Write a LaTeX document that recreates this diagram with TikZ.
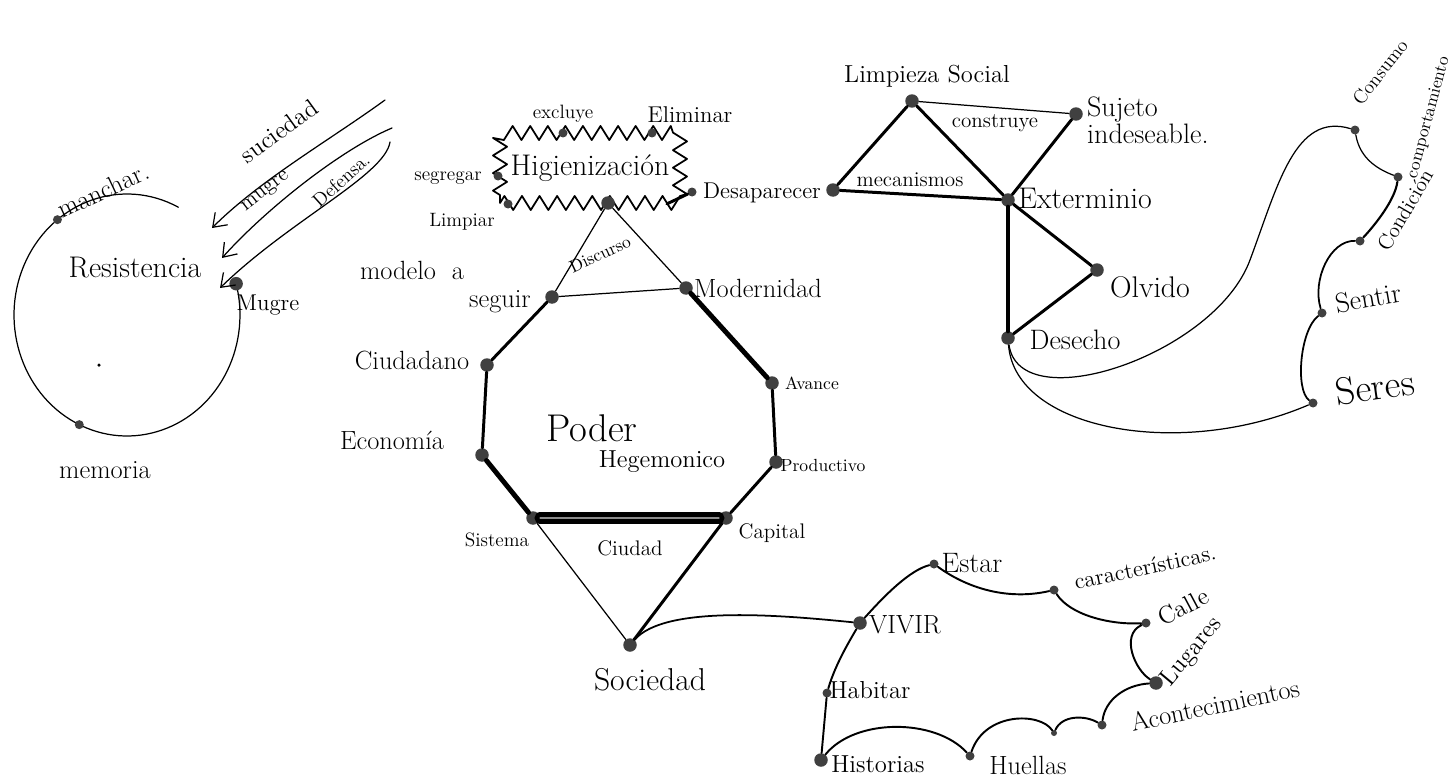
\documentclass[tikz,border=0pt]{standalone}
\usepackage{tikz}
\usetikzlibrary{
  arrows.meta,
  decorations.pathmorphing,
  calc
}
\tikzset{
  hub/.style={circle,fill=black!75,inner sep=0pt,minimum size=0.27cm},
  bead/.style={circle,fill=black!75,inner sep=0pt,minimum size=0.18cm},
  link/.style={draw,line width=0.7pt},
  bond/.style={draw,line width=1.7pt},
  heavy/.style={draw,line width=2.8pt},
  word/.style={font=\fontsize{15}{15}\selectfont,inner sep=1pt},
  note/.style={font=\fontsize{11}{12}\selectfont,inner sep=1pt},
  big word/.style={font=\fontsize{22}{22}\selectfont,inner sep=1pt},
  barb/.style={-{Straight Barb[length=7pt,width=10pt]}},
}

\begin{document}
\begin{tikzpicture}[x=0.02cm,y=-0.02cm,line cap=round,line join=round]
\useasboundingbox (0,0) rectangle (1455,781);

% Resistencia
\coordinate (ring) at (127,315);
\draw[link] ($(ring)+(63:2.26cm and 2.42cm)$)
  arc[start angle=63,end angle=375,x radius=2.26cm,y radius=2.42cm];
\node[bead] (manchar) at ($(ring)+(128:2.26cm and 2.42cm)$) {};
\node[bead] (memoria) at ($(ring)+(245:2.26cm and 2.42cm)$) {};
\node[hub] (mugre) at ($(ring)+(15:2.26cm and 2.42cm)$) {};
\node[circle,fill,inner sep=0pt,minimum size=0.07cm] (punto) at (99,365) {};
\node[word,rotate=25] (manchar-t) at (103,190) {manchar.};
\node[word,font=\fontsize{17}{17}\selectfont] (resist-t) at (135,268) {Resistencia};
\node[word] (memoria-t) at (105,470) {memoria};
\node[word,font=\fontsize{13}{13}\selectfont] (mugre-t) at (268,305) {Mugre};

\coordinate (s1) at (385,100);
\coordinate (s2) at (392,128);
\coordinate (s3) at (390,142);
\coordinate (a1) at (212,228);
\coordinate (a2) at (222,258);
\coordinate (a3) at (220,288);
\draw[link,barb] (s1) .. controls (330,140) and (260,180) .. (a1);
\draw[link,barb] (s2) .. controls (340,150) and (265,210) .. (a2);
\draw[link,barb] (s3) .. controls (385,175) and (290,220) .. (a3);
\node[word,font=\fontsize{14}{14}\selectfont,rotate=36] (suc-t) at (279,131) {suciedad};
\node[note,font=\fontsize{12}{12}\selectfont,rotate=38] (mug-t) at (266,192) {mugre};
\node[note,rotate=42] (def-t) at (341,180) {Defensa.};

% Higienizacion
\node[draw,line width=1pt,decorate,
  decoration={zigzag,amplitude=4pt,segment length=10pt},
  minimum width=3.6cm,minimum height=1.4cm,
  font=\fontsize{17}{17}\selectfont] (hig) at (590,168) {Higienización};
\node[bead] (excluye) at (563,133) {};
\node[bead] (eliminar) at (652,133) {};
\node[bead] (segregar) at (498,176) {};
\node[bead] (limpiar) at (508,204) {};
\node[bead] (desap-a) at (692,192) {};
\node[hub] (disc) at (608,203) {};
\draw[bond] (hig.-25) -- (desap-a);
\node[note] (excluye-t) at (563,114) {excluye};
\node[note,font=\fontsize{13}{13}\selectfont] (eliminar-t) at (690,115) {Eliminar};
\node[note] (segregar-t) at (448,178) {segregar};
\node[note] (limpiar-t) at (462,222) {Limpiar};
\node[note,font=\fontsize{13}{13}\selectfont] (desap-t) at (762,193) {Desaparecer};

% Poder hegemonico
\node[hub] (modelo) at (552,297) {};
\node[hub] (modern) at (686,288) {};
\node[hub] (avance) at (772,383) {};
\node[hub] (product) at (776,462) {};
\node[hub] (capital) at (726,518) {};
\node[hub] (sistema) at (533,518) {};
\node[hub] (econ) at (482,455) {};
\node[hub] (ciudadano) at (487,365) {};
\node[hub] (sociedad) at (630,645) {};

\draw[link] (disc) -- (modelo) -- (modern) -- (disc);
\draw[bond] (modelo) -- (ciudadano) -- (econ);
\draw[heavy] (econ) -- (sistema);
\draw[heavy,double=black!45,double distance=0.8pt] (sistema) -- (capital);
\draw[bond] (capital) -- (product) -- (avance);
\draw[heavy] (avance) -- (modern);
\draw[link] (sistema) -- (sociedad);
\draw[bond] (capital) -- (sociedad);

\node[note,font=\fontsize{10}{10}\selectfont,rotate=25] (disc-t) at (600,254) {Discurso};
\node[word] (modelo-t) at (412,270) {modelo\ \ a};
\node[word] (seguir-t) at (500,302) {seguir};
\node[word] (modern-t) at (758,288) {Modernidad};
\node[word] (ciudadano-t) at (412,360) {Ciudadano};
\node[word] (econ-t) at (392,440) {Economía};
\node[note,font=\fontsize{10}{10}\selectfont] (avance-t) at (812,383) {Avance};
\node[note,font=\fontsize{10}{10}\selectfont] (product-t) at (823,465) {Productivo};
\node[note,font=\fontsize{12}{12}\selectfont] (capital-t) at (772,533) {Capital};
\node[note] (sistema-t) at (497,540) {Sistema};
\node[note,font=\fontsize{12}{12}\selectfont] (ciudad-t) at (630,548) {Ciudad};
\node[big word] (poder-t) at (592,428) {Poder};
\node[word,font=\fontsize{14}{14}\selectfont] (hegem-t) at (662,462) {Hegemonico};
\node[word,font=\fontsize{18}{18}\selectfont] (sociedad-t) at (650,680) {Sociedad};

% Limpieza social
\node[hub] (limp) at (912,101) {};
\node[hub] (sujeto) at (1076,114) {};
\node[hub] (desap-b) at (833,190) {};
\node[hub] (exterm) at (1008,200) {};
\node[hub] (olvido) at (1097,270) {};
\node[hub] (desecho) at (1008,338) {};
\draw[link] (limp) -- (sujeto);
\draw[bond] (limp) -- (desap-b) -- (exterm) -- (limp);
\draw[bond] (sujeto) -- (exterm);
\draw[heavy] (exterm) -- (desecho);
\draw[bond] (exterm) -- (olvido) -- (desecho);
\node[word,font=\fontsize{14}{14}\selectfont] (limp-t) at (927,76) {Limpieza Social};
\node[word,font=\fontsize{16}{14}\selectfont,align=left,anchor=west] (sujeto-t) at (1085,120) {Sujeto\\indeseable.};
\node[note,font=\fontsize{12}{12}\selectfont] (constr-t) at (995,123) {construye};
\node[note,font=\fontsize{12}{12}\selectfont] (mecan-t) at (910,180) {mecanismos};
\node[word,font=\fontsize{17}{17}\selectfont] (exterm-t) at (1085,198) {Exterminio};
\node[word,font=\fontsize{17}{17}\selectfont] (olvido-t) at (1150,287) {Olvido};
\node[word,font=\fontsize{16}{16}\selectfont] (desecho-t) at (1075,340) {Desecho};

% Seres
\node[bead] (consumo) at (1355,130) {};
\node[bead] (comport) at (1398,177) {};
\node[bead] (condic) at (1360,241) {};
\node[bead] (sentir) at (1322,313) {};
\node[bead] (seres) at (1313,403) {};
\coordinate (giro) at (1250,260);
\draw[link] (desecho) .. controls (1020,420) and (1215,355) .. (giro)
  .. controls (1278,185) and (1295,112) .. (consumo);
\draw[link] (desecho) .. controls (1015,430) and (1180,460) .. (seres);
\draw[link] (consumo) .. controls (1360,160) and (1380,170) .. (comport);
\draw[bond,line width=1.2pt] (comport) .. controls (1395,200) and (1375,225) .. (condic);
\draw[link,line width=1pt] (condic) .. controls (1330,240) and (1312,280) .. (sentir);
\draw[link,line width=1pt] (sentir) .. controls (1300,330) and (1295,390) .. (seres);
\node[note,font=\fontsize{11}{11}\selectfont,rotate=52] (consumo-t) at (1380,72) {Consumo};
\node[note,font=\fontsize{10}{10}\selectfont,rotate=75,anchor=west] (comport-t) at (1412,180) {comportamiento};
\node[note,font=\fontsize{12}{12}\selectfont,rotate=60] (condic-t) at (1405,210) {Condición};
\node[word,font=\fontsize{16}{16}\selectfont,rotate=10] (sentir-t) at (1368,298) {Sentir};
\node[word,font=\fontsize{22}{22}\selectfont,rotate=8] (seres-t) at (1375,387) {Seres};

% Vivir
\node[hub] (vivir) at (860,623) {};
\node[bead] (estar) at (934,564) {};
\node[bead] (caract) at (1054,590) {};
\node[bead] (calle) at (1146,623) {};
\node[hub] (lugares) at (1156,683) {};
\node[bead] (acont) at (1102,725) {};
\node[circle,fill=black!75,inner sep=0pt,minimum size=0.12cm] (paso) at (1054,733) {};
\node[bead] (huellas) at (970,756) {};
\node[hub] (historias) at (821,760) {};
\node[bead] (habitar) at (827,693) {};
\draw[link,line width=1pt] (sociedad) .. controls (665,605) and (780,615) .. (vivir);
\draw[link,line width=1.1pt] (vivir) .. controls (885,595) and (910,570) .. (estar)
  .. controls (970,590) and (1010,600) .. (caract)
  .. controls (1070,615) and (1110,625) .. (calle)
  .. controls (1120,635) and (1135,670) .. (lugares)
  .. controls (1125,685) and (1105,700) .. (acont)
  .. controls (1085,715) and (1062,715) .. (paso)
  .. controls (1040,712) and (985,712) .. (huellas)
  .. controls (935,718) and (855,718) .. (historias)
  -- (habitar)
  .. controls (835,665) and (850,640) .. (vivir);
\node[word] (vivir-t) at (905,625) {VIVIR};
\node[word,font=\fontsize{16}{16}\selectfont] (estar-t) at (972,563) {Estar};
\node[note,font=\fontsize{13}{13}\selectfont,rotate=12] (caract-t) at (1145,567) {características.};
\node[note,font=\fontsize{14}{14}\selectfont,rotate=28] (calle-t) at (1183,607) {Calle};
\node[note,font=\fontsize{14}{14}\selectfont,rotate=50] (lugares-t) at (1192,652) {Lugares};
\node[note,font=\fontsize{15}{15}\selectfont,rotate=12] (acont-t) at (1215,705) {Acontecimientos};
\node[word] (huellas-t) at (1028,765) {Huellas};
\node[note,font=\fontsize{14}{14}\selectfont] (historias-t) at (878,764) {Historias};
\node[note,font=\fontsize{14}{14}\selectfont] (habitar-t) at (870,690) {Habitar};
\end{tikzpicture}
\end{document}
